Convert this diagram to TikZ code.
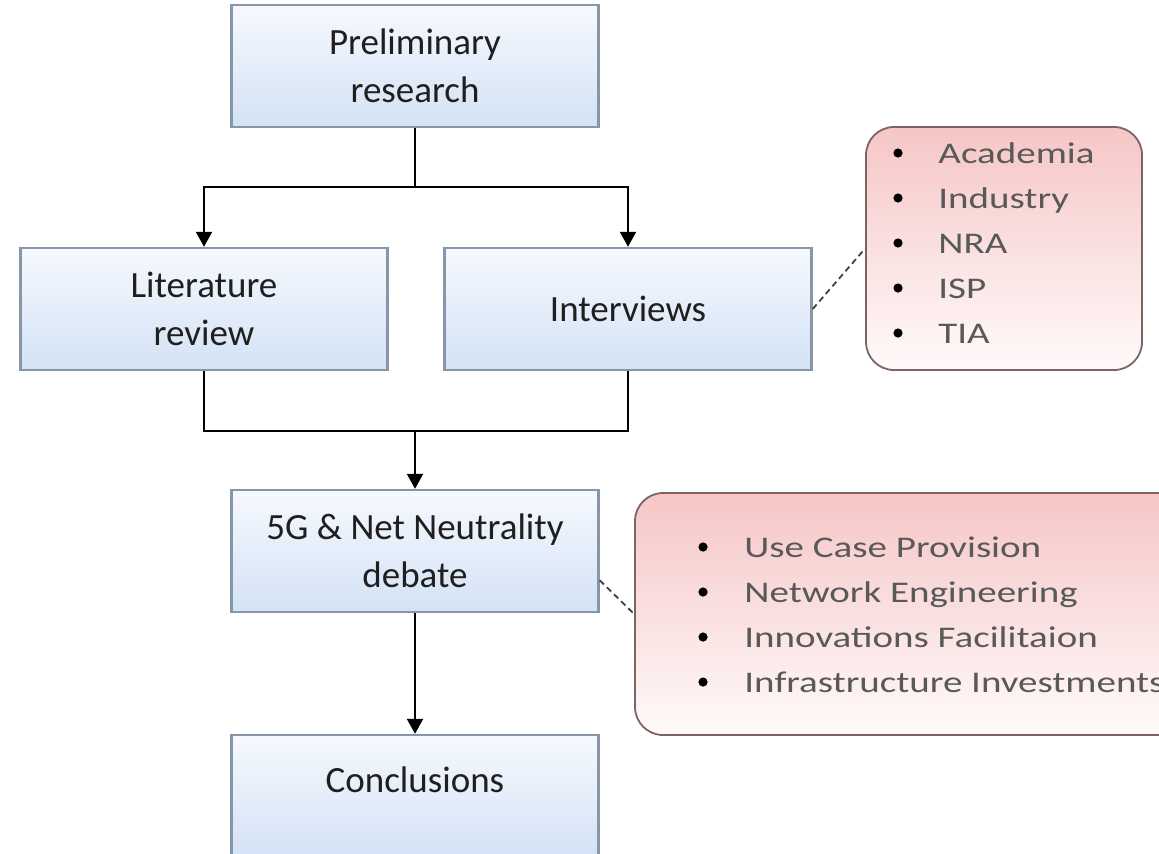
\documentclass[tikz,border=0pt]{standalone}
\usepackage{fontspec}
\setmainfont{Carlito}
\newfontfamily\listfont[FakeStretch=1.3]{Carlito}
\usepackage{xcolor}
\usepackage{tikz}
\usetikzlibrary{arrows.meta,positioning,calc}

\definecolor{boxtop}{HTML}{F6F9FE}
\definecolor{boxbot}{HTML}{D3E2F5}
\definecolor{boxline}{HTML}{8797A9}
\definecolor{notetop}{HTML}{F6C6C6}
\definecolor{notebot}{HTML}{FFFAFA}
\definecolor{noteline}{HTML}{7D6464}

\begin{document}
\begin{tikzpicture}[x=0.5pt,y=-0.5pt,
    stepbox/.style={draw=boxline, line width=1.2pt, top color=boxtop, bottom color=boxbot,
      minimum width=183.5pt, minimum height=61pt, align=center,
      font=\fontsize{18.5}{24}\selectfont, text=black!88},
    notebox/.style={draw=noteline, line width=0.9pt, rounded corners=14pt,
      top color=notetop, bottom color=notebot},
    flow/.style={line width=1.1pt, -{Triangle[length=7.5pt,width=8pt]}},
    link/.style={line width=0.9pt, dash pattern=on 3pt off 2pt, black!75},
    item/.style={anchor=base west, inner sep=0pt, text=black!65,
      font=\listfont\fontsize{15}{18}\selectfont}]
  \useasboundingbox (0,0) rectangle (1159,853);
  \clip (0,0) rectangle (1159,853);

  % Main steps
  \node[stepbox] (prelim) at (415,66) {Preliminary\\research};
  \node[stepbox] (lit) at (204,309) {Literature\\review};
  \node[stepbox] (intv) at (628,309) {Interviews};
  \node[stepbox] (debate) at (415,551) {5G \& Net Neutrality\\debate};
  \node[stepbox, text height=13pt, text depth=17pt] (concl) at (415,796) {Conclusions};

  % Branch and merge points
  \coordinate (split) at (415,187);
  \coordinate (join) at (415,431);

  % Flow lines
  \draw[line width=1.1pt] (prelim.south) -- (split);
  \draw[flow] (split) -| (lit.north);
  \draw[flow] (split) -| (intv.north);
  \draw[line width=1.1pt] (lit.south) |- (join) -| (intv.south);
  \draw[flow] (join) -- (debate.north);
  \draw[flow] (debate.south) -- (concl.north);

  % Interviewed parties
  \node[notebox, minimum width=138pt, minimum height=121.5pt] (actors) at (1004,248.5) {};
  \foreach \txt [count=\i from 0] in {Academia, Industry, NRA, ISP, TIA} {
    \fill (898,153+45*\i) circle (2.3pt);
    \node[item] (actor\i) at (938,163+45*\i) {\txt};
  }

  % Debate aspects
  \node[notebox, minimum width=275pt, minimum height=121pt] (aspects) at (910,614) {};
  \foreach \txt [count=\i from 0] in {Use Case Provision, Network Engineering,
      Innovations Facilitaion, Infrastructure Investments} {
    \fill (703,547+45*\i) circle (2.3pt);
    \node[item] (aspect\i) at (744,557+45*\i) {\txt};
  }

  % Dashed links
  \draw[link] (intv.east) -- (actors.west);
  \draw[link] (debate.-9) -- (aspects.west);
\end{tikzpicture}
\end{document}
